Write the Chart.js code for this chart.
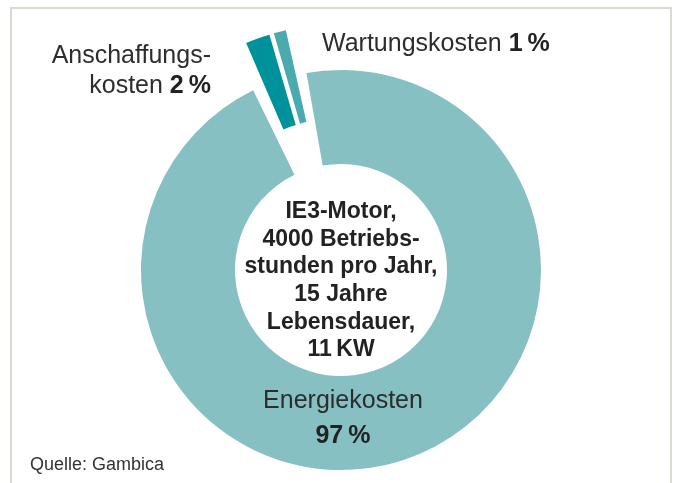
<!DOCTYPE html>
<html>
<head>
<meta charset="utf-8">
<script src="https://cdn.jsdelivr.net/npm/chart.js@4.4.1/dist/chart.umd.min.js"></script>
<style>
  html, body { margin: 0; padding: 0; background: #ffffff; }
  #wrap { position: relative; width: 687px; height: 483px; overflow: hidden;
          font-family: "Liberation Sans", Arial, sans-serif; color: #2d2d2d; }
  #frame { position: absolute; left: 10px; top: 7px; width: 658px; height: 500px;
           border: 2px solid #ddd8d0; border-bottom: none; }
  #c { position: absolute; left: 0; top: 0; }
  .lbl { position: absolute; font-size: 25px; line-height: 30px; white-space: nowrap; }
  .lbl b { font-weight: bold; color: #222; }
  #center { position: absolute; left: 201px; top: 197.2px; width: 280px; text-align: center;
            font-size: 23px; line-height: 27.6px; font-weight: bold; color: #222; }
  #src { position: absolute; left: 30px; top: 453.8px; font-size: 18px; line-height: 20px; color: #333; }
</style>
</head>
<body>
<div id="wrap">
  <div id="frame"></div>
  <canvas id="c" width="687" height="483"></canvas>
  <div id="labels"></div>
  <div id="center"></div>
  <div id="src"></div>
</div>
<script>
// ---- data ----
const categories = ['Energiekosten', 'Anschaffungskosten', 'Wartungskosten'];
const shares = [97, 2, 1];
const labelLines = [['Energiekosten', ''], ['Anschaffungs-', 'kosten'], ['Wartungskosten']];
const centerLines = ['IE3-Motor,', '4000 Betriebs-', 'stunden pro Jahr,', '15 Jahre', 'Lebensdauer,', '11\u2009KW'];
const sourceText = 'Quelle: Gambica';

// ---- styles / layout ----
const colors = ['#86c0c3', '#00929a', '#4aaab0'];
const explode = [0, 46, 46];
const labelBoxes = [
  { left: 193, top: 381.8, width: 300, align: 'center', lh: 35 },
  { right: 476, top: 39.3, align: 'right', lh: 30 },
  { left: 322, top: 27.3, align: 'left', lh: 30 }
];

// labels
const labelsDiv = document.getElementById('labels');
categories.forEach((cat, i) => {
  const box = labelBoxes[i];
  const d = document.createElement('div');
  d.className = 'lbl';
  d.title = cat;
  if (box.left !== undefined) d.style.left = box.left + 'px';
  if (box.right !== undefined) d.style.right = box.right + 'px';
  if (box.width) d.style.width = box.width + 'px';
  d.style.top = box.top + 'px';
  d.style.textAlign = box.align;
  d.style.lineHeight = box.lh + 'px';
  const lines = labelLines[i].slice();
  const pct = '<b>' + shares[i] + '\u2009%</b>';
  const last = lines.length - 1;
  lines[last] = lines[last] ? lines[last] + ' ' + pct : pct;
  d.innerHTML = lines.join('<br>');
  labelsDiv.appendChild(d);
});
document.getElementById('center').innerHTML = centerLines.join('<br>');
document.getElementById('src').textContent = sourceText;

// shift exploded slices outward along their mid-angle
const explodePlugin = {
  id: 'explodeSlices',
  afterDatasetsUpdate(chart) {
    const meta = chart.getDatasetMeta(0);
    meta.data.forEach((arc, i) => {
      const dist = explode[i] || 0;
      if (!dist) return;
      const mid = (arc.startAngle + arc.endAngle) / 2;
      arc.x += Math.cos(mid) * dist;
      arc.y += Math.sin(mid) * dist;
    });
  }
};

new Chart(document.getElementById('c'), {
  type: 'doughnut',
  data: {
    labels: categories,
    datasets: [{
      data: shares,
      backgroundColor: colors,
      borderWidth: 0,
      spacing: 4.6,
      clip: false
    }]
  },
  options: {
    responsive: false,
    animation: false,
    events: [],
    rotation: -12.6,
    radius: 197.7,
    cutout: '52.45%',
    layout: { padding: { top: 57, bottom: 0, left: 0, right: 5 } },
    plugins: { legend: { display: false }, tooltip: { enabled: false } }
  },
  plugins: [explodePlugin]
});
</script>
</body>
</html>
